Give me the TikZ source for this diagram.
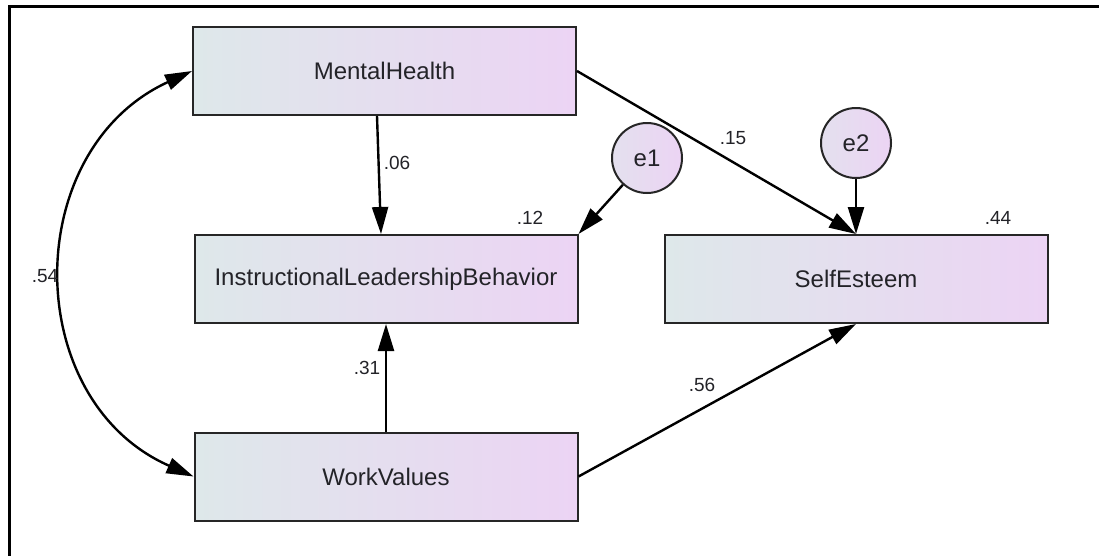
\documentclass[tikz,border=0pt]{standalone}
\usepackage{fontspec}
\setmainfont{Liberation Sans}
\usetikzlibrary{arrows.meta,calc}
\definecolor{gleft}{RGB}{222,232,234}
\definecolor{gright}{RGB}{236,212,244}
\definecolor{txt}{RGB}{35,35,40}
\begin{document}
\begin{tikzpicture}[x=1pt,y=-1pt,
  var/.style={draw=black!85,line width=2pt,left color=gleft,right color=gright,
    minimum width=383pt,minimum height=88pt,inner sep=0pt,text=txt,font=\fontsize{24}{28}\selectfont},
  err/.style={circle,draw=black!85,line width=2pt,left color=gleft!60!gright,right color=gright,
    minimum size=70pt,inner sep=0pt,text=txt,font=\fontsize{24}{28}\selectfont},
  lab/.style={text=txt,font=\fontsize{19}{22}\selectfont,inner sep=0pt},
  path/.style={line width=2.4pt,-{Triangle[length=27pt,width=16pt]}},
  cov/.style={line width=2.4pt,{Triangle[length=27pt,width=16pt]}-{Triangle[length=27pt,width=16pt]}}]
\useasboundingbox (0,0) rectangle (1099,555);
\clip (0,0) rectangle (1099,555);
\draw[line width=3pt] (1110,6) -- (9,6) -- (9,565);
\node[var] (mh) at (384.5,71) {MentalHealth};
\node[var] (ilb) at (386,279) {InstructionalLeadershipBehavior};
\node[var] (wv) at (386,476.5) {WorkValues};
\node[var] (se) at (856,279) {SelfEsteem};
\node[err] (e1) at (647,158) {e1};
\node[err] (e2) at (856,143) {e2};
\draw[path] ($(mh.south)+(-7.5,0)$) -- ($(ilb.north)+(-5,0)$);
\draw[path] (e1) -- (ilb.north east);
\draw[path] (mh.east) -- (se.north);
\draw[path] (e2) -- (se.north);
\draw[path] (wv.north) -- (ilb.south);
\draw[path] (wv.east) -- (se.south);
\draw[cov] (mh.west) .. controls (20,150) and (20,400) .. (wv.west);
\node[lab] (l06) at (397,163) {.06};
\node[lab] (l12) at (530,218) {.12};
\node[lab] (l15) at (733,138) {.15};
\node[lab] (l44) at (998,218) {.44};
\node[lab] (l31) at (367,368) {.31};
\node[lab] (l56) at (702,385) {.56};
\node[lab] (l54) at (45,276) {.54};
\end{tikzpicture}
\end{document}
